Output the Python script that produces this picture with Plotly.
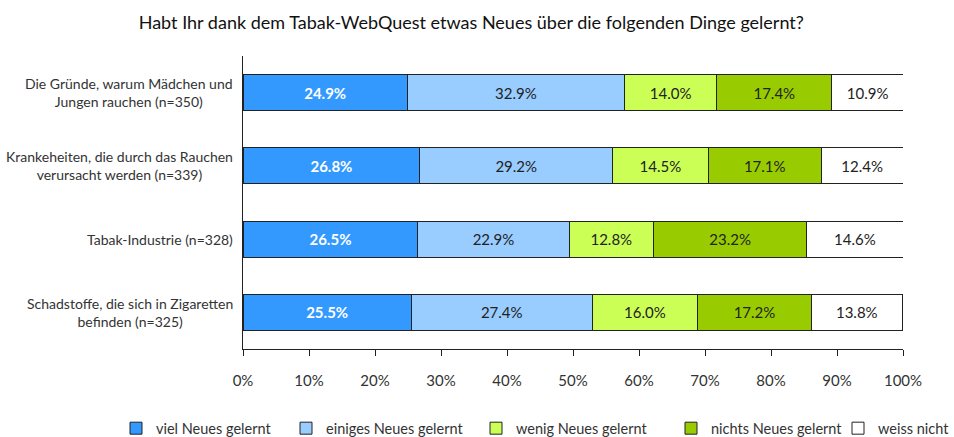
import plotly.graph_objects as go

categories = [
    "Die Gründe, warum Mädchen und<br>Jungen rauchen (n=350)",
    "Krankeheiten, die durch das Rauchen<br>verursacht werden (n=339)",
    "Tabak-Industrie (n=328)",
    "Schadstoffe, die sich in Zigaretten<br>befinden (n=325)",
]
series_names = ["viel Neues gelernt", "einiges Neues gelernt", "wenig Neues gelernt",
                "nichts Neues gelernt", "weiss nicht"]
viel = [24.9, 26.8, 26.5, 25.5]
einiges = [32.9, 29.2, 22.9, 27.4]
wenig = [14.0, 14.5, 12.8, 16.0]
nichts = [17.4, 17.1, 23.2, 17.2]
weiss = [10.9, 12.4, 14.6, 13.8]
x_ticks = [0, 10, 20, 30, 40, 50, 60, 70, 80, 90, 100]
x_tick_labels = [f"{t}%" for t in x_ticks]

colors = ["#3399FF", "#99CCFF", "#CCFF55", "#99CC00", "#FFFFFF"]
text_colors = ["#FFFFFF", "#222222", "#222222", "#222222", "#222222"]
values = [viel, einiges, wenig, nichts, weiss]
legend_x_px = [116, 286, 476, 671, 838]

FONT = "Lato, 'Open Sans', sans-serif"
W, H = 954, 437

fig = go.Figure()
legend_names = ["legend"] + [f"legend{i}" for i in range(2, 6)]
for i, (name, vals) in enumerate(zip(series_names, values)):
    fig.add_trace(go.Bar(
        y=list(range(len(categories))), x=vals, name=name, orientation="h",
        marker=dict(color=colors[i], line=dict(color="#222222", width=1)),
        width=0.49,
        text=[f"{v:.1f}%" for v in vals], textposition="inside",
        insidetextanchor="middle",
        textfont=dict(size=15, color=text_colors[i], family=FONT,
                      weight="bold" if i == 0 else "normal"),
        hoverinfo="skip",
        legend=legend_names[i],
    ))

for i, c in enumerate(categories):
    fig.add_annotation(x=-0.012, xref="paper", y=i, yref="y", text=c,
                       showarrow=False, xanchor="right", align="center",
                       font=dict(size=14, color="#333333", family=FONT))

legend_layout = {}
for i, ln in enumerate(legend_names):
    legend_layout[ln] = dict(orientation="h", xref="container", yref="container",
                             x=legend_x_px[i] / W, xanchor="left", y=0.02, yanchor="middle",
                             font=dict(size=14.5, color="#333333"), itemwidth=30,
                             bgcolor="rgba(0,0,0,0)")

fig.update_layout(
    barmode="stack",
    width=W, height=H,
    margin=dict(l=243, r=51, t=56, b=88),
    paper_bgcolor="white", plot_bgcolor="white",
    font=dict(family=FONT, color="#333333"),
    title=dict(text="Habt Ihr dank dem Tabak-WebQuest etwas Neues über die folgenden Dinge gelernt?",
               x=0.494, xanchor="center", y=0.948, yanchor="middle",
               font=dict(size=18, color="#111111", family=FONT)),
    xaxis=dict(range=[0, 100], tickvals=x_ticks, ticktext=x_tick_labels,
               showgrid=False, zeroline=False, showline=True, linecolor="#222222",
               ticks="outside", ticklen=6, tickcolor="#222222", ticklabelstandoff=12,
               tickfont=dict(size=15, color="#333333"), fixedrange=True),
    yaxis=dict(range=[3.5, -0.5], showticklabels=False, showgrid=False,
               zeroline=False, showline=True, linecolor="#222222", ticks="",
               fixedrange=True),
    showlegend=True,
    **legend_layout,
)

fig.write_html("out.html", config={"displayModeBar": False},
               post_script="document.body.style.margin='0';")
